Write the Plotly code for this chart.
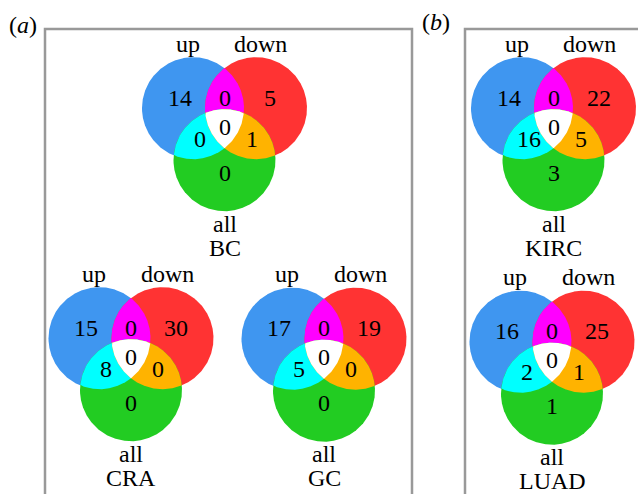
import numpy as np
import plotly.graph_objects as go

# ---- data ----
names = ["BC", "CRA", "GC", "KIRC", "LUAD"]
set_labels = ["up", "down", "all"]
# region order: up only, up&down, down only, up&down&all, up&all, down&all, all only
values = {
    "BC":   [14, 0, 5, 0, 0, 1, 0],
    "CRA":  [15, 0, 30, 0, 8, 0, 0],
    "GC":   [17, 0, 19, 0, 5, 0, 0],
    "KIRC": [14, 0, 22, 0, 16, 5, 3],
    "LUAD": [16, 0, 25, 0, 2, 1, 1],
}
panel_labels = ["a", "b"]

# ---- layout (pixel coordinates) ----
W, H = 638, 494
centers = {"BC": (224.5, 125.5), "CRA": (131, 355.5), "GC": (324, 356),
           "KIRC": (553.5, 125.5), "LUAD": (552, 359)}
R = 51
dx, dy_top, dy_bot = 31.5, 17.3, 34.7
col_up, col_down, col_all = "#3f96f0", "#ff3333", "#22cc22"
col_ud, col_ua, col_da, col_c = "#ff00ff", "#00ffff", "#ffb300", "#ffffff"
FONT = "Liberation Serif"
FS = 24

num_off = [(-45, -28), (0, -28), (45, -28), (0, 1), (-25, 13), (27, 13), (0, 47)]
lab_off = [(-37, -82), (36, -82), (0, 98)]
name_off = (0, 122)

fig = go.Figure()
t = np.linspace(0, 2 * np.pi, 1441)


def region(circles_in):
    pts = []
    for i, (cx, cy) in enumerate(circles_in):
        px = cx + R * np.cos(t)
        py = cy + R * np.sin(t)
        mask = np.ones_like(px, dtype=bool)
        for j, (ox, oy) in enumerate(circles_in):
            if j != i:
                mask &= (px - ox) ** 2 + (py - oy) ** 2 <= R ** 2 + 1e-6
        pts.append(np.column_stack([px[mask], py[mask]]))
    p = np.vstack(pts)
    m = p.mean(axis=0)
    ang = np.arctan2(p[:, 1] - m[1], p[:, 0] - m[0])
    p = p[np.argsort(ang)]
    return np.append(p[:, 0], p[0, 0]), np.append(p[:, 1], p[0, 1])


def add_poly(xs, ys, color):
    fig.add_trace(go.Scatter(x=xs, y=ys, mode="lines", fill="toself",
                             fillcolor=color, line=dict(width=0),
                             hoverinfo="skip", showlegend=False))


annotations = []
for name in names:
    cx, cy = centers[name]
    cu = (cx - dx, cy - dy_top)
    cd = (cx + dx, cy - dy_top)
    ca = (cx, cy + dy_bot)
    for c, col in [(cu, col_up), (cd, col_down), (ca, col_all)]:
        add_poly(*region([c]), col)
    add_poly(*region([cu, cd]), col_ud)
    add_poly(*region([cu, ca]), col_ua)
    add_poly(*region([cd, ca]), col_da)
    add_poly(*region([cu, cd, ca]), col_c)
    for v, (ox, oy) in zip(values[name], num_off):
        annotations.append(dict(x=cx + ox, y=cy + oy, text=str(v)))
    for lab, (ox, oy) in zip(set_labels, lab_off):
        annotations.append(dict(x=cx + ox, y=cy + oy, text=lab))
    annotations.append(dict(x=cx + name_off[0], y=cy + name_off[1], text=name))

annotations.append(dict(x=23, y=25, text="(<i>%s</i>)" % panel_labels[0]))
annotations.append(dict(x=436, y=22, text="(<i>%s</i>)" % panel_labels[1]))

for a in annotations:
    a.update(xref="x", yref="y", showarrow=False, xanchor="center",
             yanchor="middle", font=dict(family=FONT, size=FS, color="black"))

shapes = [
    dict(type="path", path="M 45 500 L 45 29 L 412 29 L 412 500",
         line=dict(color="#999999", width=2.5), xref="x", yref="y"),
    dict(type="path", path="M 465 500 L 465 29 L 645 29",
         line=dict(color="#999999", width=2.5), xref="x", yref="y"),
]

fig.update_layout(
    width=W, height=H, margin=dict(l=0, r=0, t=0, b=0),
    paper_bgcolor="white", plot_bgcolor="white",
    xaxis=dict(range=[0, W], visible=False, fixedrange=True),
    yaxis=dict(range=[H, 0], visible=False, fixedrange=True),
    annotations=annotations, shapes=shapes, showlegend=False,
)
fig.write_html("out.html", config={"displayModeBar": False},
               post_script="document.body.style.margin='0';"
                           "document.body.style.overflow='hidden';")
